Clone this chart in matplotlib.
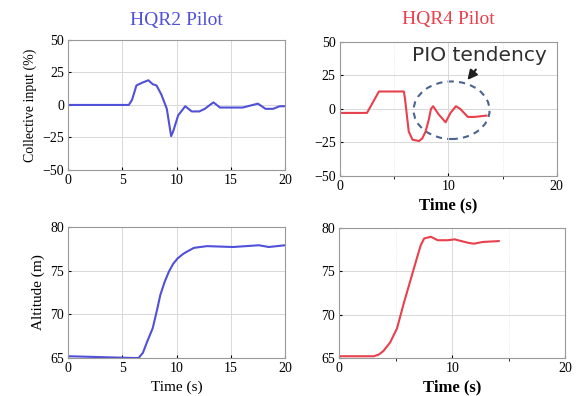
import numpy as np
import matplotlib
matplotlib.use("Agg")
import matplotlib.pyplot as plt
from matplotlib.patches import Ellipse

plt.rcParams['font.family'] = ['Liberation Serif', 'DejaVu Serif']

# HQR2 pilot (left column)
t_c2 = [0, 5.6, 5.9, 6.3, 6.8, 7.4, 7.8, 8.15, 8.6, 9.1, 9.5, 9.7, 10.15, 10.8, 11.4, 12.1, 12.6, 13.4, 14.0, 16.1, 17.5, 18.2, 18.9, 19.5, 20]
c2 = [0, 0, 4, 15, 17, 19, 16, 15, 8, -3, -24, -20, -8, -1, -5, -5, -3, 2, -2, -2, 1, -3, -3, -1, -1]

t_h2 = [0, 3, 6.0, 6.5, 6.9, 7.3, 7.8, 8.2, 8.5, 8.9, 9.3, 9.7, 10.1, 10.6, 11.0, 11.6, 12.8, 15.2, 17.6, 18.5, 20]
h2 = [65.2, 65.1, 65.0, 65.0, 65.6, 66.9, 68.4, 70.5, 72.2, 73.7, 74.9, 75.8, 76.4, 76.9, 77.2, 77.6, 77.8, 77.7, 77.9, 77.7, 77.9]

# HQR4 pilot (right column)
t_c4 = [0, 2.5, 3.6, 5.9, 6.0, 6.35, 6.7, 7.3, 7.6, 7.9, 8.2, 8.4, 8.6, 9.1, 9.75, 10.2, 10.7, 11.1, 11.8, 12.4, 13.5]
c4 = [-3, -3, 13, 13, 8, -17, -23, -24, -22, -17, -8, 0, 2, -4, -10, -3, 2, 0, -6, -6, -5]

t_h4 = [0, 3.05, 3.5, 3.9, 4.5, 5.1, 5.7, 6.3, 6.9, 7.2, 7.5, 8.1, 8.7, 9.6, 10.2, 10.8, 11.4, 11.9, 12.7, 14.1]
h4 = [65.2, 65.2, 65.4, 65.8, 66.8, 68.4, 71.3, 74.0, 76.7, 78.0, 78.8, 79.0, 78.6, 78.6, 78.7, 78.5, 78.3, 78.2, 78.4, 78.5]

blue = '#5050d8'
red = '#e8404c'

fig = plt.figure(figsize=(5.77, 3.96), dpi=100)

ax1 = fig.add_axes([0.118, 0.571, 0.376, 0.328])
ax2 = fig.add_axes([0.589, 0.556, 0.376, 0.338])
ax3 = fig.add_axes([0.118, 0.096, 0.376, 0.331])
ax4 = fig.add_axes([0.588, 0.096, 0.392, 0.328])

for ax in [ax1, ax2, ax3, ax4]:
    ax.set_xlim(0, 20)
    ax.grid(True, color='#d8d8d8', linewidth=0.7)
    ax.tick_params(labelsize=10, length=2, direction='in', pad=3)
    for sp in ax.spines.values():
        sp.set_color('#999999')
        sp.set_linewidth(0.8)

ax1.plot(t_c2, c2, color=blue, linewidth=1.5)
ax1.set_ylim(-50, 50)
ax1.set_xticks([0, 5, 10, 15, 20])
ax1.set_yticks([-50, -25, 0, 25, 50])
ax1.set_ylabel('Collective input (%)', fontsize=10)
ax1.set_title('HQR2 Pilot', color=blue, fontsize=14, pad=11)

ax2.plot(t_c4, c4, color=red, linewidth=1.5)
ax2.set_ylim(-50, 50)
ax2.set_xticks([0, 10, 20])
ax2.set_yticks([-50, -25, 0, 25, 50])
ax2.set_xticks([5, 15], minor=True)
ax2.grid(True, which='minor', color='#e4e4e4', linewidth=0.6, linestyle=':')
ax2.set_xlabel('Time (s)', fontsize=12, fontweight='bold', labelpad=3)
ax2.set_title('HQR4 Pilot', color=red, fontsize=14, pad=13)
ax2.add_patch(Ellipse((10.3, -1), 7.0, 43, fill=False, edgecolor='#4a6490',
                      linestyle=(0, (3, 2.5)), linewidth=1.5))
ax2.annotate('', xy=(11.6, 20), xytext=(12.7, 31),
             arrowprops=dict(arrowstyle='-|>', color='#202020', lw=1.5, mutation_scale=14))
ax2.text(12.9, 40, 'PIO tendency', fontsize=14.5, family=['DejaVu Sans'], ha='center', va='center',
         color='#303030')

ax3.plot(t_h2, h2, color=blue, linewidth=1.5)
ax3.set_ylim(65, 80)
ax3.set_xticks([0, 5, 10, 15, 20])
ax3.set_yticks([65, 70, 75, 80])
ax3.set_ylabel('Altitude (m)', fontsize=11)
ax3.set_xlabel('Time (s)', fontsize=11, labelpad=4)

ax4.plot(t_h4, h4, color=red, linewidth=1.5)
ax4.set_ylim(65, 80)
ax4.set_xticks([0, 10, 20])
ax4.set_yticks([65, 70, 75, 80])
ax4.set_xticks([5, 15], minor=True)
ax4.grid(True, which='minor', color='#e4e4e4', linewidth=0.6, linestyle=':')
ax4.set_xlabel('Time (s)', fontsize=12, fontweight='bold', labelpad=3)

fig.savefig('out.png', dpi=100)
